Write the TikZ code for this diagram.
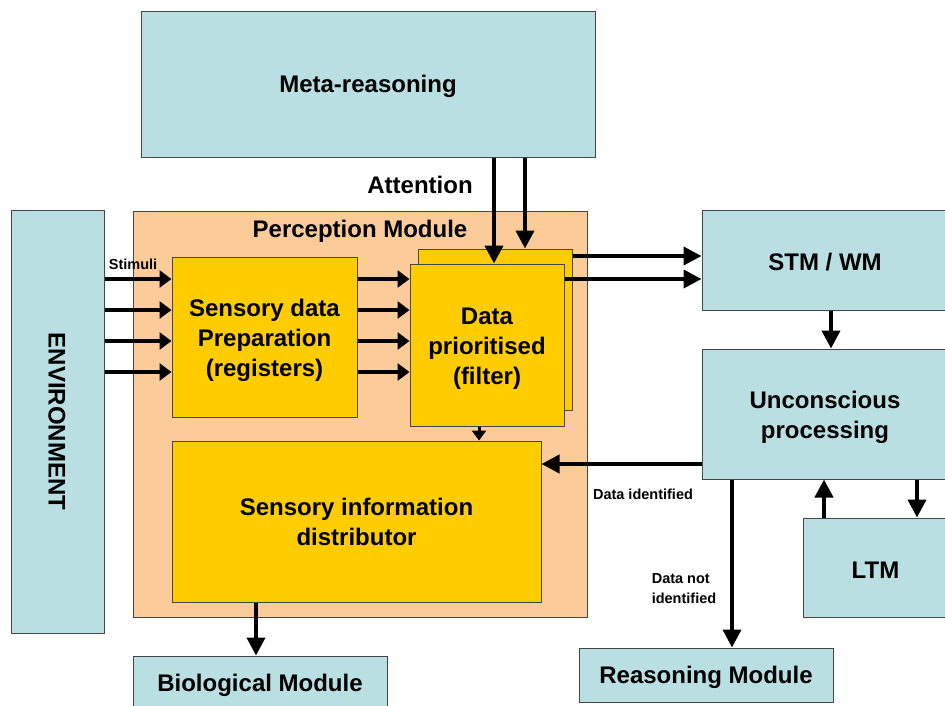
\documentclass[tikz,border=0pt]{standalone}
\usepackage{fontspec}
\setmainfont{Liberation Sans}
\usetikzlibrary{arrows.meta}
\definecolor{tealbox}{RGB}{185,223,226}
\definecolor{peachbox}{RGB}{251,203,153}
\definecolor{goldbox}{RGB}{255,204,0}
\definecolor{edgegray}{RGB}{70,70,70}
\newcommand\mystrutx{\rule{0pt}{21.5pt}}
\newcommand\mystruty{\rule{0pt}{23.5pt}}
\begin{document}
\begin{tikzpicture}[x=1pt,y=-1pt,
  box/.style={draw=edgegray, line width=1pt, rectangle, inner sep=0pt, align=center,
    font=\bfseries\fontsize{24}{30}\selectfont, execute at begin node=\mystrutx},
  tbox/.style={box, fill=tealbox},
  ybox/.style={box, fill=goldbox},
  pbox/.style={box, fill=peachbox},
  arr/.style={line width=4pt, -{Triangle[length=18pt,width=18pt]}},
  sarr/.style={line width=4pt, -{Triangle[length=12pt,width=17pt]}},
  tarr/.style={line width=3pt, -{Triangle[length=10pt,width=14pt]}},
  bigtext/.style={font=\bfseries\fontsize{24}{30}\selectfont, inner sep=0pt, align=center},
  big/.style={bigtext, execute at begin node=\mystrutx},
  lbl/.style={font=\bfseries\fontsize{14.5}{20}\selectfont, inner sep=0pt, align=left}]
\useasboundingbox (0,0) rectangle (945,705);

% boxes
\node[tbox, minimum width=454pt, minimum height=146pt] (meta) at (368,84) {Meta-reasoning};
\node[pbox, minimum width=454pt, minimum height=406pt] (perc) at (360,414) {};
\node[tbox, minimum width=93pt, minimum height=423pt] (env) at (57.5,421.5) {};
\node[bigtext, rotate=-90] (envtxt) at (57,421.5) {ENVIRONMENT};
\node[ybox, minimum width=185pt, minimum height=160pt] (prep) at (264.5,337) {\mystruty Sensory data\\Preparation\\(registers)};
\node[ybox, minimum width=154pt, minimum height=161pt] (fback) at (495,329.5) {};
\node[ybox, minimum width=154pt, minimum height=162pt] (filt) at (487,345) {\mystruty Data\\prioritised\\(filter)};
\node[ybox, minimum width=369pt, minimum height=161pt] (dist) at (356.5,521.5) {Sensory information\\distributor};
\node[tbox, minimum width=246pt, minimum height=100pt] (stm) at (825,260) {STM / WM};
\node[tbox, minimum width=246pt, minimum height=130pt] (unc) at (825,414) {\mystruty Unconscious\\processing};
\node[tbox, minimum width=145pt, minimum height=99pt] (ltm) at (875.5,567.5) {LTM};
\node[tbox, minimum width=254pt, minimum height=54pt] (bio) at (260,683) {Biological Module};
\node[tbox, minimum width=254pt, minimum height=54pt] (reas) at (706,675) {Reasoning Module};

% labels
\node[big] (att) at (420,183) {Attention};
\node[big] (perclbl) at (360,229) {Perception Module};
\node[lbl] (stim) at (133,264) {Stimuli};
\node[lbl] (dident) at (643,494) {Data identified};
\node[lbl] (dnot) at (684,589) {Data not\\identified};

% attention arrows
\coordinate (m1) at ([xshift=126pt]meta.south);
\coordinate (m2) at ([xshift=157pt]meta.south);
\draw[arr] (m1) -- (m1 |- filt.north);
\draw[arr] (m2) -- (m2 |- fback.north);

% stimuli arrows
\foreach \y [count=\i] in {279,310,341,372} {
  \coordinate (s\i) at ([yshift={421.5-\y}]env.east);
  \draw[sarr] (s\i) -- (s\i -| prep.west);
  \draw[sarr] (s\i -| prep.east) -- (s\i -| filt.west);
}

% filter to STM
\coordinate (b1) at ([yshift=73.5pt]fback.east);
\coordinate (b2) at ([yshift=66pt]filt.east);
\draw[arr] (b1) -- (b1 -| stm.west);
\draw[arr] (b2) -- (b2 -| stm.west);

% filter to distributor
\coordinate (f1) at ([xshift=-8pt]filt.south);
\draw[tarr] (f1) -- (f1 |- dist.north);

% distributor to biological
\coordinate (d1) at ([xshift=-100.5pt]dist.south);
\draw[arr] (d1) -- (d1 |- bio.north);

% STM to unconscious
\coordinate (t1) at ([xshift=6pt]stm.south);
\draw[arr] (t1) -- (t1 |- unc.north);

% unconscious to distributor
\coordinate (u1) at ([yshift=-50pt]unc.west);
\draw[arr] (u1) -- (u1 -| dist.east);

% unconscious to reasoning
\coordinate (u2) at ([xshift=-93pt]unc.south);
\draw[arr] (u2) -- (u2 |- reas.north);

% LTM <-> unconscious
\coordinate (l1) at ([xshift=-51.5pt]ltm.north);
\draw[arr] (l1) -- (l1 |- unc.south);
\coordinate (u3) at ([xshift=92pt]unc.south);
\draw[arr] (u3) -- (u3 |- ltm.north);
\end{tikzpicture}
\end{document}
